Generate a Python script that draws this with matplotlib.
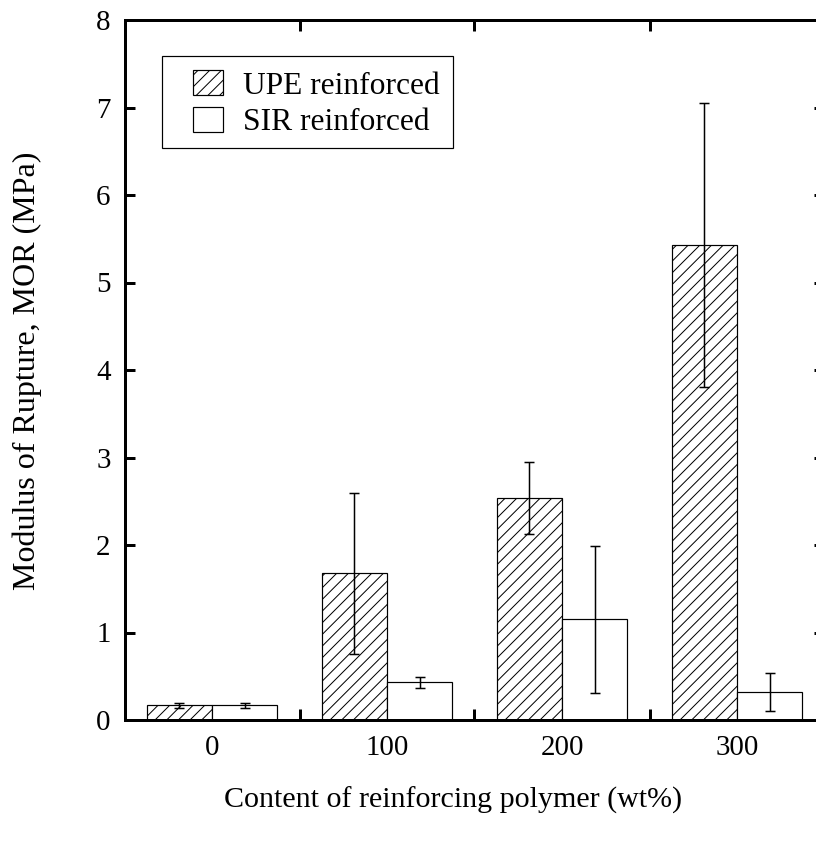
import matplotlib
matplotlib.use("Agg")
import matplotlib.pyplot as plt
from matplotlib.patches import Rectangle
import numpy as np

categories = ["0", "100", "200", "300"]
upe_values = [0.17, 1.68, 2.54, 5.43]
upe_errors = [0.03, 0.92, 0.41, 1.62]
sir_values = [0.17, 0.43, 1.15, 0.32]
sir_errors = [0.03, 0.06, 0.84, 0.22]
legend_labels = ["UPE reinforced", "SIR reinforced"]
y_ticks = [0, 1, 2, 3, 4, 5, 6, 7, 8]

DPI = 140
W, H = 816, 844
P = 72.0 / DPI  # points per pixel

plt.rcParams['font.family'] = ['Liberation Serif', 'DejaVu Serif']
plt.rcParams['hatch.linewidth'] = 1.0 * P
plt.rcParams['mathtext.default'] = 'regular'

fig = plt.figure(figsize=(W / DPI, H / DPI), dpi=DPI)
left, right, top, bottom = 124.5, 824.5, 20, 720
ax = fig.add_axes([left / W, 1 - bottom / H, (right - left) / W, (bottom - top) / H])

x = np.arange(len(categories))
bw = 0.372
ax.bar(x - bw / 2, upe_values, width=bw, facecolor='white', edgecolor='black',
       hatch='////', linewidth=1.2 * P, label=legend_labels[0], zorder=2)
ax.bar(x + bw / 2, sir_values, width=bw, facecolor='white', edgecolor='black',
       linewidth=1.2 * P, label=legend_labels[1], zorder=2)
ax.errorbar(x - bw / 2, upe_values, yerr=upe_errors, fmt='none', ecolor='black',
            elinewidth=1.5 * P, capsize=5 * P, capthick=1.5 * P, zorder=3)
ax.errorbar(x + bw / 2, sir_values, yerr=sir_errors, fmt='none', ecolor='black',
            elinewidth=1.5 * P, capsize=5 * P, capthick=1.5 * P, zorder=3)

ax.set_xlim(-0.5, 3.5)
ax.set_ylim(0, 8)
ax.set_yticks(y_ticks)
ax.set_yticklabels([str(t) for t in y_ticks])
ax.set_xticks(x)
ax.set_xticklabels(categories)
ax.set_xticks([0.5, 1.5, 2.5], minor=True)

fs_tick = 29 * P
ax.tick_params(axis='x', which='major', length=0, pad=15 * P, labelsize=fs_tick)
ax.tick_params(axis='x', which='minor', direction='in', top=True, bottom=True,
               length=11 * P, width=3 * P)
ax.tick_params(axis='y', which='major', direction='in', left=True, right=True,
               length=10 * P, width=3 * P, pad=14 * P, labelsize=fs_tick)
for s in ax.spines.values():
    s.set_linewidth(3 * P)

fs_label = 30 * P
fig.text(453 / W, 1 - 800 / H, "Content of reinforcing polymer (wt%)",
         ha='center', va='center', fontsize=fs_label)
fig.text(27 / W, 1 - 371 / H, "Modulus of Rupture, MOR (MPa)",
         ha='center', va='center', rotation=90, fontsize=32 * P)

# legend frame
ax.add_patch(Rectangle((162 / W, 1 - 148 / H), (453 - 162) / W, (148 - 56) / H,
                       transform=fig.transFigure, facecolor='white', edgecolor='black',
                       linewidth=1.2 * P, zorder=4))
fs_leg = 31.5 * P
leg = ax.legend(loc='upper left',
                bbox_to_anchor=((193 - left) / (right - left), (bottom - 70) / (bottom - top)),
                borderaxespad=0, frameon=False, fontsize=fs_leg,
                handlelength=30 / 31.5, handleheight=27 / 31.5, handletextpad=0.62,
                borderpad=0, labelspacing=0.2)
leg.set_zorder(5)

fig.savefig("out.png", dpi=DPI)
